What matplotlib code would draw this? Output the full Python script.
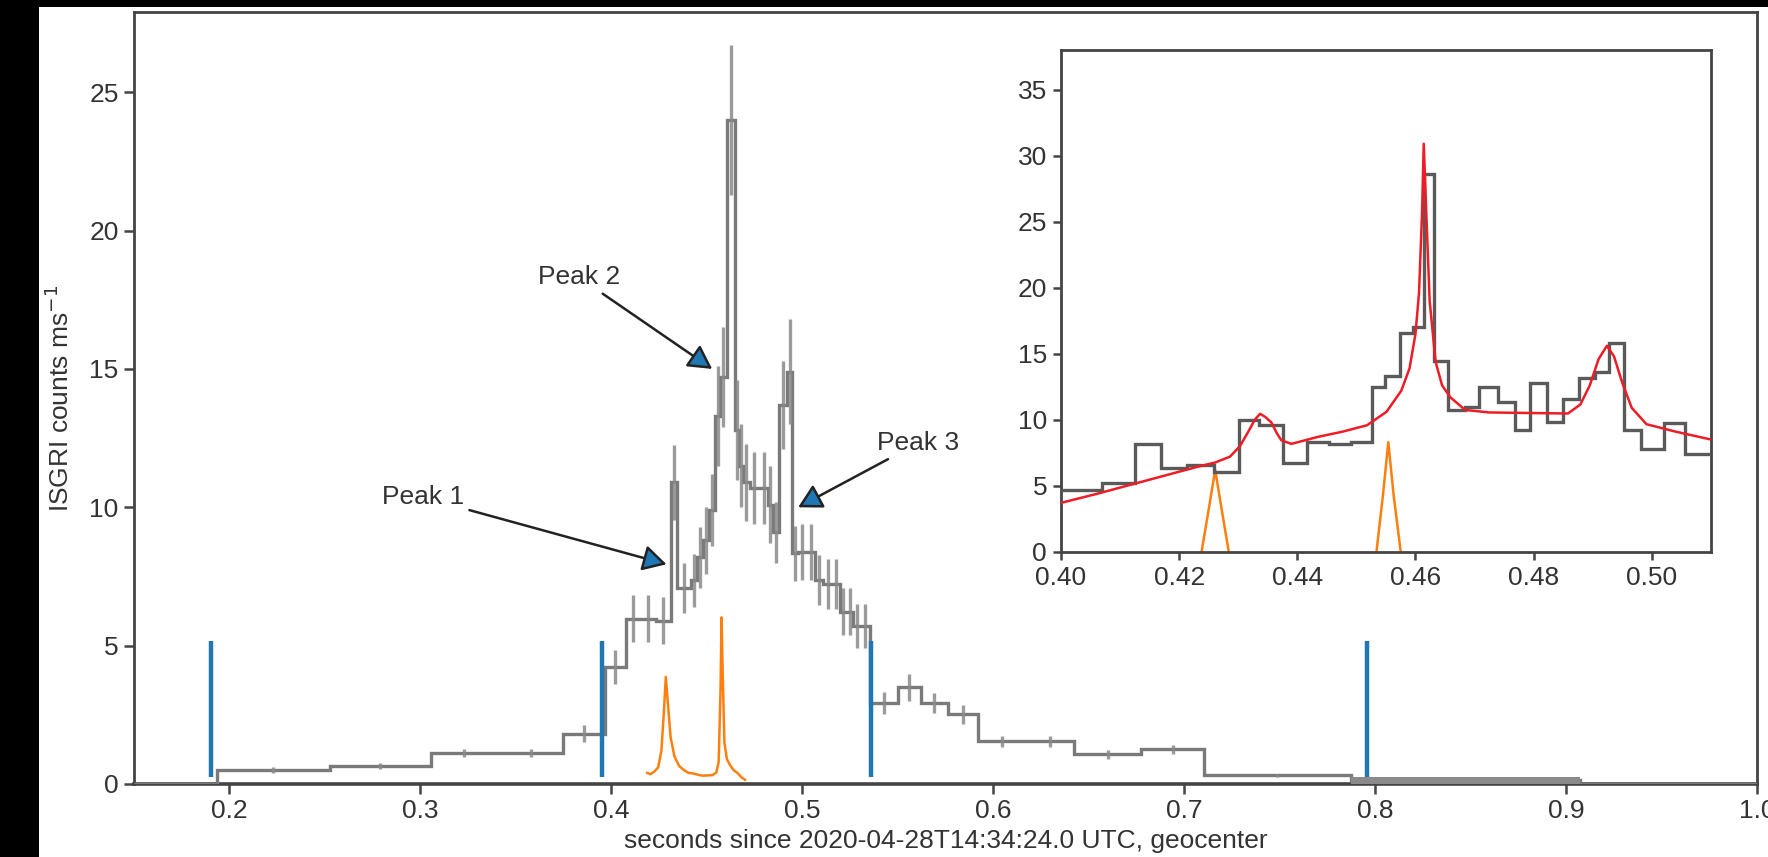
import matplotlib
matplotlib.use('Agg')
import matplotlib.pyplot as plt
from matplotlib.patches import Rectangle
import numpy as np

# ----------------------------- #
# ISGRI light curve with inset zoom on the three peaks
# ----------------------------- #

plt.rcParams['font.family'] = ['Liberation Sans', 'DejaVu Sans']

# main light curve (variable width blocks)
bin_edges = [0.150, 0.1935, 0.2526, 0.3055, 0.3405, 0.3748, 0.3965, 0.4074, 0.4153, 0.4232,
             0.4310, 0.4346, 0.4419, 0.4446, 0.4480, 0.4512, 0.4545, 0.4568, 0.4603, 0.4646,
             0.4669, 0.4690, 0.4725, 0.4773, 0.4821, 0.4844, 0.4878, 0.4920, 0.4948, 0.4978,
             0.5022, 0.5066, 0.5110, 0.5155, 0.5196, 0.5231, 0.5266, 0.5305, 0.5355, 0.5502,
             0.5619, 0.5763, 0.5920, 0.6175, 0.6421, 0.6776, 0.7102, 0.7875, 0.9075, 1.000]
rates = [0.0, 0.50, 0.65, 1.11, 1.11, 1.82, 4.23, 5.98, 5.98, 5.90,
         10.9, 7.07, 7.36, 8.2, 8.8, 9.9, 13.3, 14.7, 24.0, 12.8,
         11.5, 10.9, 10.7, 10.7, 10.1, 9.1, 13.7, 14.9, 8.33, 8.39,
         8.39, 7.36, 7.24, 7.24, 6.22, 6.22, 5.7, 5.7, 2.93, 3.49,
         2.93, 2.52, 1.55, 1.55, 1.07, 1.25, 0.32, 0.13, 0.0]
rate_errs = [0.0, 0.12, 0.10, 0.15, 0.15, 0.30, 0.60, 0.85, 0.85, 0.85,
             1.35, 0.90, 0.95, 1.10, 1.20, 1.30, 1.80, 1.80, 2.70, 1.80,
             1.50, 1.40, 1.30, 1.30, 1.40, 1.10, 1.60, 1.90, 1.00, 1.00,
             1.00, 0.90, 0.90, 0.90, 0.85, 0.85, 0.80, 0.80, 0.40, 0.50,
             0.35, 0.35, 0.20, 0.20, 0.15, 0.15, 0.05, 0.13, 0.0]

# interval markers
marker_times = [0.1902, 0.3952, 0.5362, 0.7957]
marker_low = 0.25
marker_high = 5.15

# radio pulse profile (orange)
pulse_t = [0.4188, 0.4205, 0.4225, 0.4245, 0.4262, 0.4275, 0.4285, 0.4295, 0.4310, 0.4330,
           0.4355, 0.4380, 0.4405, 0.4430, 0.4455, 0.4480, 0.4505, 0.4530, 0.4550, 0.4562,
           0.4572, 0.4577, 0.4583, 0.4592, 0.4605, 0.4620, 0.4640, 0.4660, 0.4680, 0.4700]
pulse_y = [0.40, 0.35, 0.45, 0.60, 1.20, 2.60, 3.87, 3.00, 1.70, 1.00,
           0.65, 0.50, 0.40, 0.38, 0.33, 0.30, 0.31, 0.32, 0.42, 0.80,
           3.50, 6.02, 4.00, 1.50, 0.90, 0.70, 0.50, 0.40, 0.25, 0.15]

# peak annotations: label, label position, arrow tip
peak_labels = ['Peak 1', 'Peak 2', 'Peak 3']
peak_text_xy = [(0.3013, 10.36), (0.3830, 18.31), (0.5606, 12.32)]
peak_tip_xy = [(0.4289, 7.94), (0.4528, 15.0), (0.4978, 10.0)]

# inset histogram
inset_edges = [0.4000, 0.4069, 0.4126, 0.4170, 0.4213, 0.4259, 0.4302, 0.4336, 0.4375, 0.4416,
               0.4454, 0.4491, 0.4526, 0.4549, 0.4574, 0.4595, 0.4614, 0.4632, 0.4655, 0.4683,
               0.4708, 0.4740, 0.4768, 0.4793, 0.4822, 0.4850, 0.4877, 0.4904, 0.4928, 0.4953,
               0.4982, 0.5020, 0.5057, 0.5100]
inset_counts = [4.67, 5.23, 8.16, 6.32, 6.57, 6.06, 9.98, 9.6, 6.74, 8.33,
                8.16, 8.33, 12.5, 13.33, 16.6, 17.05, 28.6, 14.45, 10.73, 11.0,
                12.5, 11.36, 9.2, 12.8, 9.8, 11.55, 13.18, 13.58, 15.8, 9.2,
                7.77, 9.74, 7.41]

# inset model fit (red)
fit_t = [0.4000, 0.4062, 0.4145, 0.4228, 0.4261, 0.4286, 0.4303, 0.4319, 0.4328, 0.4337,
         0.4346, 0.4356, 0.4365, 0.4373, 0.4390, 0.4435, 0.4477, 0.4518, 0.4551, 0.4576,
         0.4590, 0.4600, 0.4606, 0.4611, 0.4614, 0.4618, 0.4624, 0.4634, 0.4645, 0.4659,
         0.4684, 0.4725, 0.4808, 0.4858, 0.4879, 0.4895, 0.4910, 0.4924, 0.4936, 0.4950,
         0.4966, 0.4991, 0.5040, 0.5100]
fit_y = [3.7, 4.4, 5.4, 6.4, 6.76, 7.2, 8.0, 9.25, 10.0, 10.45,
         10.2, 9.8, 9.0, 8.44, 8.17, 8.7, 9.1, 9.58, 10.6, 12.2,
         13.9, 16.5, 19.6, 25.5, 30.9, 26.0, 19.0, 14.4, 12.6, 11.7,
         10.74, 10.55, 10.5, 10.47, 11.15, 12.6, 14.6, 15.6, 14.8, 12.8,
         10.9, 9.66, 9.1, 8.5]

# inset radio pulses (orange), one per pulse
inset_pulse1_t = [0.4238, 0.4250, 0.4261, 0.4272, 0.4284]
inset_pulse1_y = [0.0, 3.2, 6.2, 3.2, 0.0]
inset_pulse2_t = [0.4534, 0.4545, 0.4554, 0.4563, 0.4575]
inset_pulse2_y = [0.0, 4.3, 8.3, 4.3, 0.0]

FONT_SIZE = 19
SPINE_COLOR = '#444444'


def style_axes(ax, tick_len):

    """
    Apply common spine and tick styling

    :param ax: matplotlib axes
    :param tick_len: tick length in points
    :return: None
    """

    for spine in ax.spines.values():
        spine.set_color(SPINE_COLOR)
        spine.set_linewidth(2)
    ax.tick_params(direction='out', length=tick_len, width=1.8, color=SPINE_COLOR,
                   labelsize=FONT_SIZE, labelcolor='#333333', pad=4)


def plot_main(fig):

    """
    Draw the full light curve with markers, pulses and peak labels

    :param fig: matplotlib figure
    :return: None
    """

    ax = fig.add_axes([0.0758, 0.0852, 0.918, 0.9008])
    ax.set_facecolor('white')

    edges = np.array(bin_edges)
    centers = 0.5 * (edges[:-1] + edges[1:])

    # step curve and error bars
    ax.stairs(rates, edges, baseline=None, color='#7a7a7a', lw=2.4, zorder=3)
    ax.errorbar(centers, rates, yerr=rate_errs, fmt='none', ecolor='#8a8a8a',
                elinewidth=2.4, alpha=0.85, zorder=3)

    # faint tail block drawn as a band
    ax.fill_between(edges[-3:-1], rates[-2] - rate_errs[-2], rates[-2] + rate_errs[-2],
                    color='#8a8a8a', lw=0, zorder=3)

    # interval markers and radio pulses
    ax.vlines(marker_times, marker_low, marker_high, color='#1f77b4', lw=3.2, zorder=4)
    ax.plot(pulse_t, pulse_y, color='#ff7f0e', lw=1.8, zorder=4)

    # peak annotations
    for label, txy, tip in zip(peak_labels, peak_text_xy, peak_tip_xy):
        ax.annotate(label, xy=tip, xytext=txy, ha='center', va='center',
                    fontsize=FONT_SIZE, color='#333333',
                    arrowprops=dict(arrowstyle='-|>,head_length=0.4,head_width=0.22',
                                    fc='#1f77b4', ec='#222222', lw=1.8,
                                    mutation_scale=36, shrinkA=2, shrinkB=0))

    ax.set_xlim(0.15, 1.0)
    ax.set_ylim(0, 27.9)
    ax.set_xticks(np.arange(0.2, 1.01, 0.1))
    ax.set_xticklabels(['0.2', '0.3', '0.4', '0.5', '0.6', '0.7', '0.8', '0.9', '1.0'])
    ax.set_yticks([0, 5, 10, 15, 20, 25])
    style_axes(ax, 7)
    ax.spines['bottom'].set_linewidth(2.6)

    ax.set_xlabel('seconds since 2020-04-28T14:34:24.0 UTC, geocenter',
                  fontsize=FONT_SIZE, color='#333333')
    ax.xaxis.set_label_coords(0.5, -0.058)
    ax.set_ylabel('ISGRI counts ms$^{-1}$', fontsize=FONT_SIZE, color='#333333')
    ax.yaxis.set_label_coords(-0.037, 0.5)


def plot_inset(fig):

    """
    Draw the zoomed inset around the three peaks

    :param fig: matplotlib figure
    :return: None
    """

    ax = fig.add_axes([0.6001, 0.3562, 0.3676, 0.5854])
    ax.set_facecolor('white')

    ax.stairs(inset_counts, inset_edges, baseline=None, color='#5a5a5a', lw=2.4, zorder=3)
    ax.plot(fit_t, fit_y, color='#ee1c25', lw=1.8, zorder=4)
    ax.plot(inset_pulse1_t, inset_pulse1_y, color='#ff7f0e', lw=1.8, zorder=2)
    ax.plot(inset_pulse2_t, inset_pulse2_y, color='#ff7f0e', lw=1.8, zorder=2)

    ax.set_xlim(0.40, 0.51)
    ax.set_ylim(0, 38)
    ax.set_xticks([0.40, 0.42, 0.44, 0.46, 0.48, 0.50])
    ax.set_xticklabels(['0.40', '0.42', '0.44', '0.46', '0.48', '0.50'])
    ax.set_yticks([0, 5, 10, 15, 20, 25, 30, 35])
    style_axes(ax, 6)


def main():

    fig = plt.figure(figsize=(17.68, 8.57), dpi=100)
    fig.patch.set_facecolor('black')

    # white page area of the screenshot
    fig.add_artist(Rectangle((0.022, 0.0), 0.978, 0.9918, transform=fig.transFigure,
                             facecolor='white', edgecolor='none', zorder=0))

    plot_main(fig)
    plot_inset(fig)

    fig.savefig('out.png', dpi=100, facecolor=fig.get_facecolor())


if __name__ == '__main__':
    main()
